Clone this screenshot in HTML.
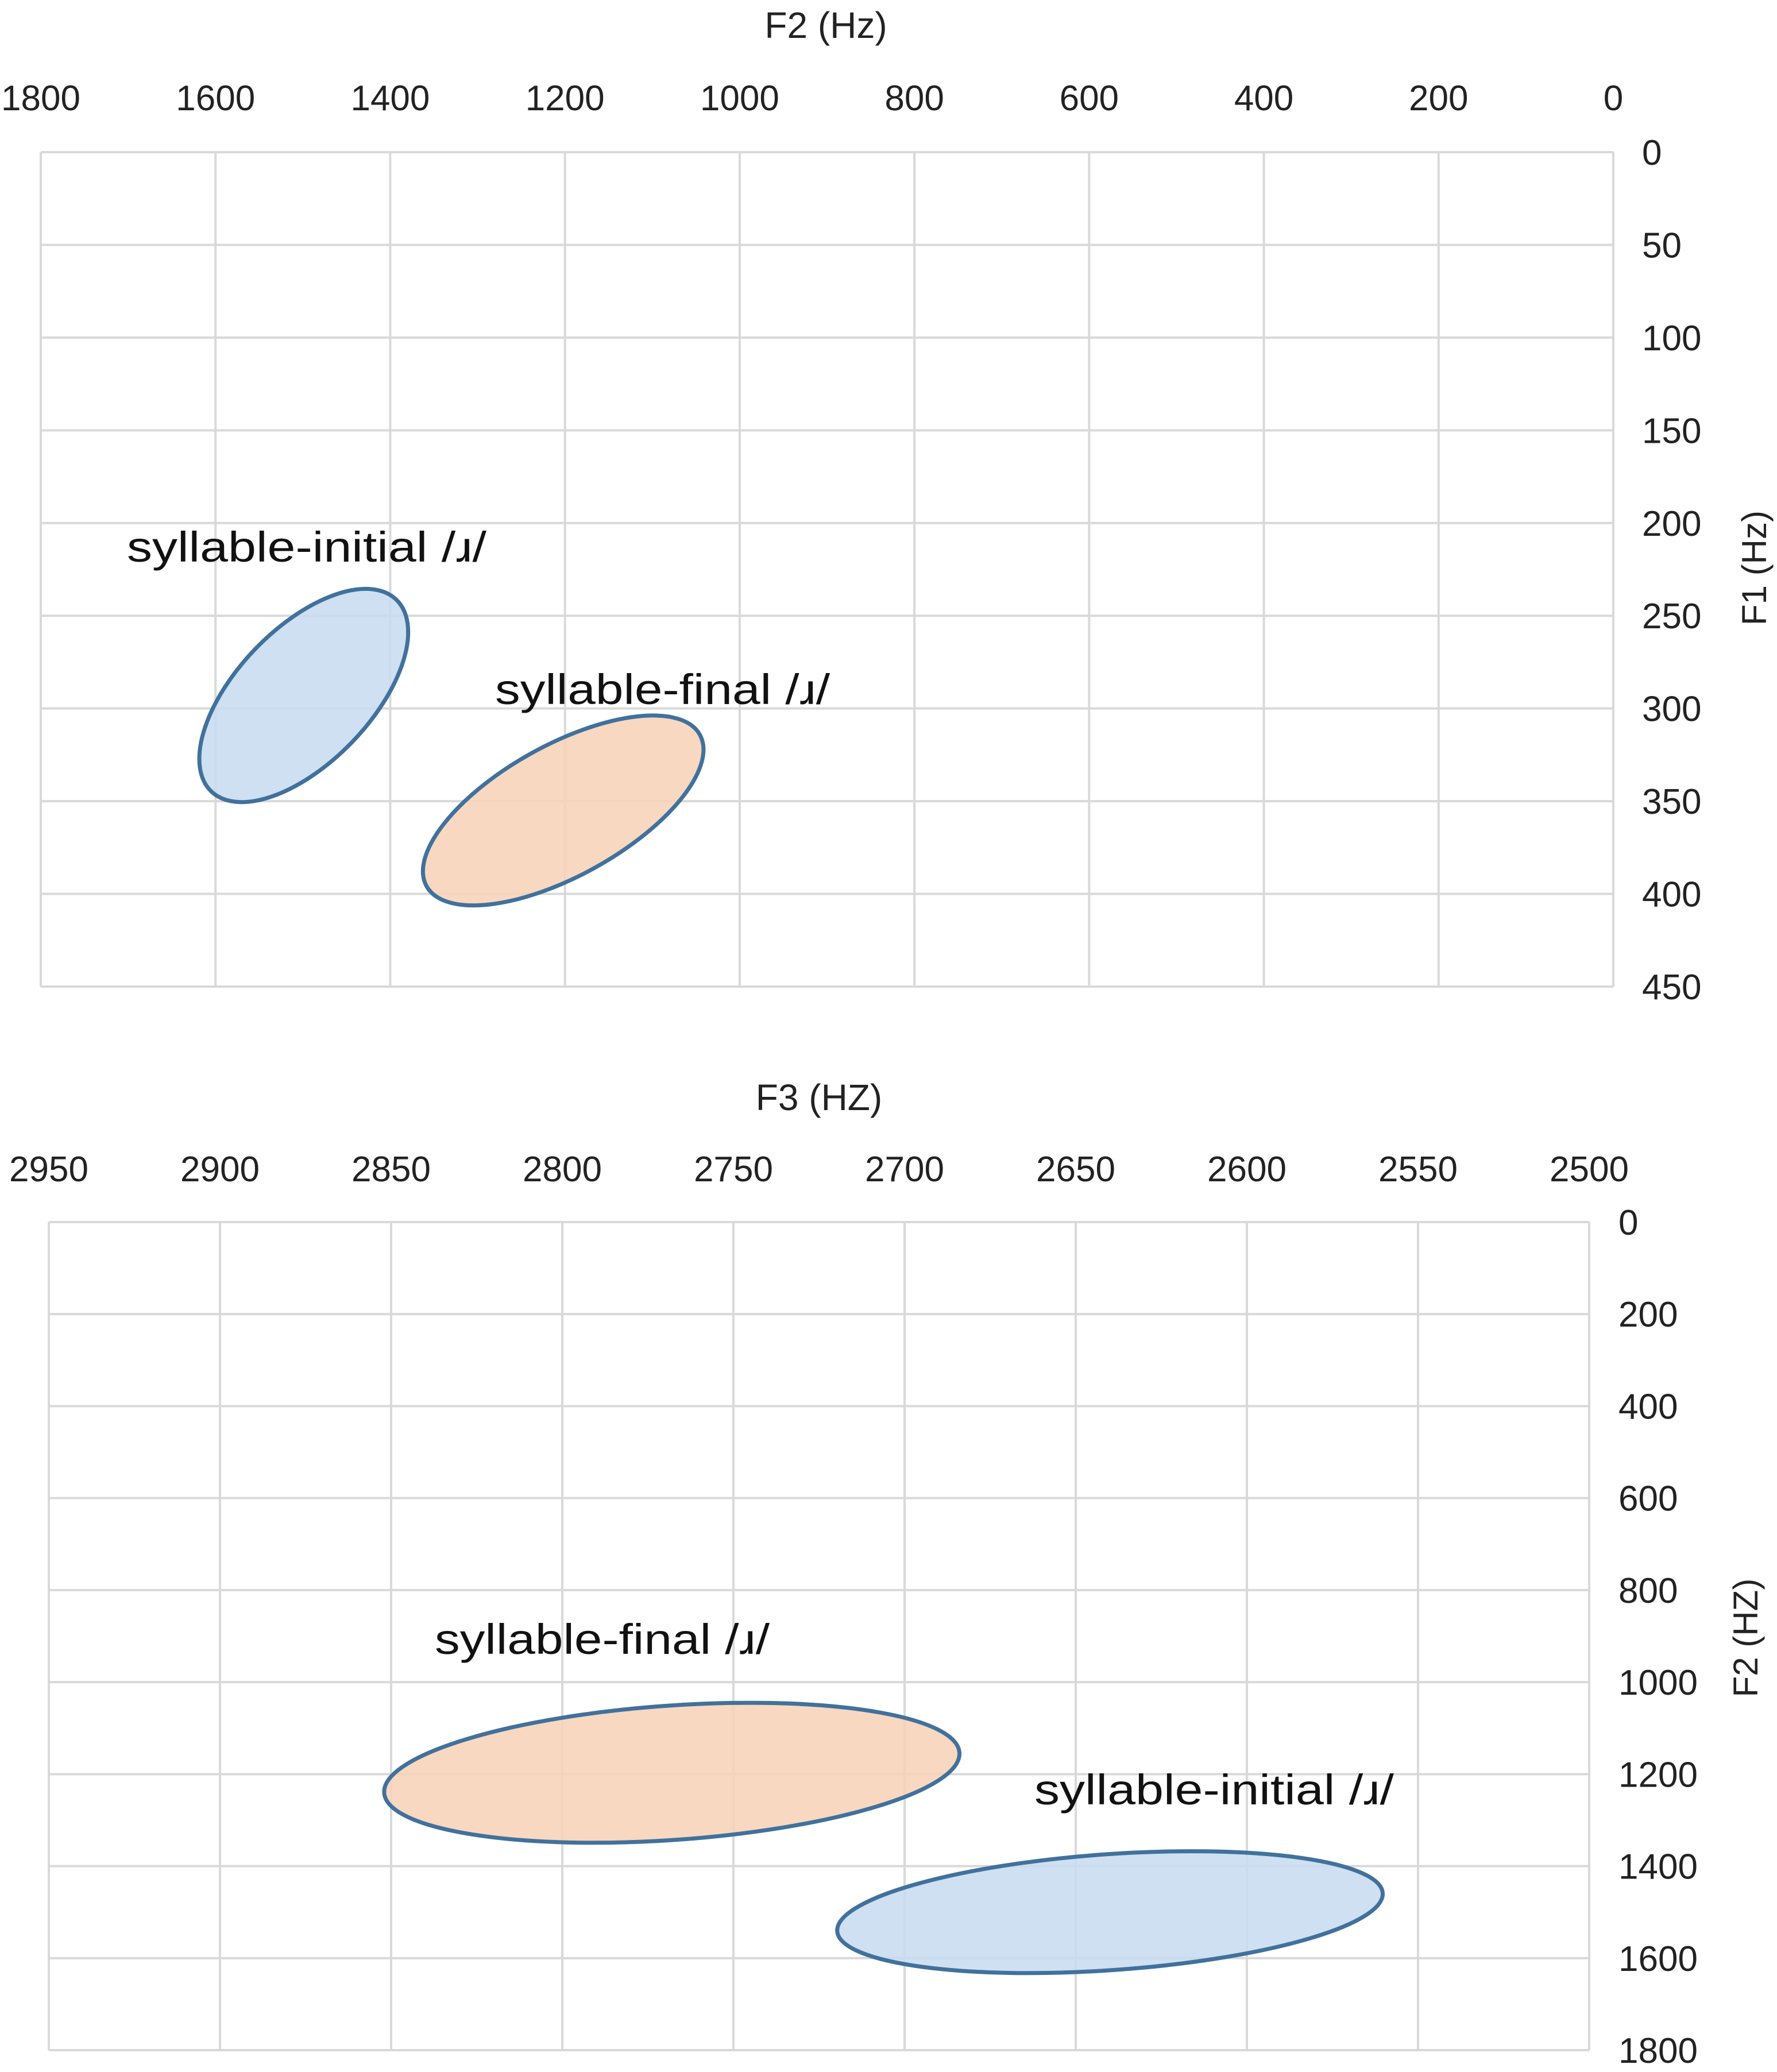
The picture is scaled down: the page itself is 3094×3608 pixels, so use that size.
<!DOCTYPE html>
<html><head><meta charset="utf-8"><style>
html,body{margin:0;padding:0;background:#fff;}
svg{display:block;font-family:"Liberation Sans",sans-serif;}
</style></head><body>
<svg id="chart" width="3094" height="3608" viewBox="0 0 3094 3608" xmlns="http://www.w3.org/2000/svg"></svg>
<script>
// Chart 1 data
const c1XTicks = [1800,1600,1400,1200,1000,800,600,400,200,0];
const c1YTicks = [0,50,100,150,200,250,300,350,400,450];
const c1Labels = ["syllable-initial /ɹ/","syllable-final /ɹ/"];
const c1F2 = [1499,1202];
const c1F1 = [293,355];
// Chart 2 data
const c2XTicks = [2950,2900,2850,2800,2750,2700,2650,2600,2550,2500];
const c2YTicks = [0,200,400,600,800,1000,1200,1400,1600,1800];
const c2Labels = ["syllable-final /ɹ/","syllable-initial /ɹ/"];
const c2F3 = [2768,2640];
const c2F2 = [1197,1500];

const NS="http://www.w3.org/2000/svg";
const svg=document.getElementById('chart');
function mk(tag,attrs,parent){const e=document.createElementNS(NS,tag);for(const k in attrs)e.setAttribute(k,attrs[k]);(parent||svg).appendChild(e);return e;}

function drawChart(cfg){
  const g=mk('g',{});
  
  
  const xs=v=>cfg.L+(cfg.xMax-v)/(cfg.xMax-cfg.xMin)*(cfg.R-cfg.L);
  const ys=v=>cfg.T+(v-cfg.yMin)/(cfg.yMax-cfg.yMin)*(cfg.B-cfg.T);
  cfg.xTicks.forEach(v=>{
    const l=mk('line',{x1:xs(v),x2:xs(v),y1:cfg.T,y2:cfg.B,stroke:'#d9d9d9','stroke-width':4},g);
    
    
    const t=mk('text',{x:xs(v),y:cfg.xLabY,'text-anchor':'middle','font-size':62,fill:'#222'},g);
    t.textContent=v;
    
    
  });
  cfg.yTicks.forEach(v=>{
    const l=mk('line',{x1:cfg.L,x2:cfg.R,y1:ys(v),y2:ys(v),stroke:'#d9d9d9','stroke-width':4},g);
    
    
    const t=mk('text',{x:cfg.yLabX,y:ys(v)+22,'font-size':62,fill:'#222'},g);
    t.textContent=v;
    
    
  });
  const xt=mk('text',{x:cfg.xTitleX,y:cfg.xTitleY,'text-anchor':'middle','font-size':64,fill:'#222'},g);
  xt.textContent=cfg.xTitle;
  
  
  const yt=mk('text',{x:0,y:0,'text-anchor':'middle','font-size':60,fill:'#222',transform:`translate(${cfg.yTitleX},${cfg.yTitleY}) rotate(-90)`},g);
  yt.textContent=cfg.yTitle;
  
  
  cfg.cx.forEach((v,i)=>{
    const s=cfg.shapes[i];
    const e=mk('ellipse',{cx:xs(v),cy:ys(cfg.cy[i]),rx:s.a,ry:s.b,transform:`rotate(${s.ang} ${xs(v)} ${ys(cfg.cy[i])})`,fill:s.fill,'fill-opacity':0.85,stroke:'#41719c','stroke-width':7},g);
    
    
    const t=mk('text',{x:s.lx,y:s.ly,'font-size':74,fill:'#111',textLength:s.lw,lengthAdjust:'spacingAndGlyphs'},g);
    t.textContent=cfg.labels[i];
    
    
  });
}
drawChart({name:'chart-f1-f2',L:71,R:2809,T:265,B:1718,xMin:0,xMax:1800,yMin:0,yMax:450,
  xTicks:c1XTicks,yTicks:c1YTicks,xLabY:192,yLabX:2859,xTitle:'F2 (Hz)',xTitleX:1438,xTitleY:66,
  yTitle:'F1 (Hz)',yTitleX:3075,yTitleY:989,labels:c1Labels,cx:c1F2,cy:c1F1,
  shapes:[{a:232,b:117,ang:-46,fill:'#c5daf0',lx:221,ly:978,lw:626},
          {a:272,b:114,ang:-29,fill:'#f7d1b6',lx:862,ly:1226,lw:583}]});
drawChart({name:'chart-f2-f3',L:85,R:2767,T:2128,B:3570,xMin:2500,xMax:2950,yMin:0,yMax:1800,
  xTicks:c2XTicks,yTicks:c2YTicks,xLabY:2057,yLabX:2818,xTitle:'F3 (HZ)',xTitleX:1426,xTitleY:1933,
  yTitle:'F2 (HZ)',yTitleX:3060,yTitleY:2852,labels:c2Labels,cx:c2F3,cy:c2F2,
  shapes:[{a:502,b:117,ang:-4,fill:'#f7d1b6',lx:757,ly:2880,lw:583},
          {a:476,b:101,ang:-4,fill:'#c5daf0',lx:1801,ly:3142,lw:626}]});
</script>
</body></html>
